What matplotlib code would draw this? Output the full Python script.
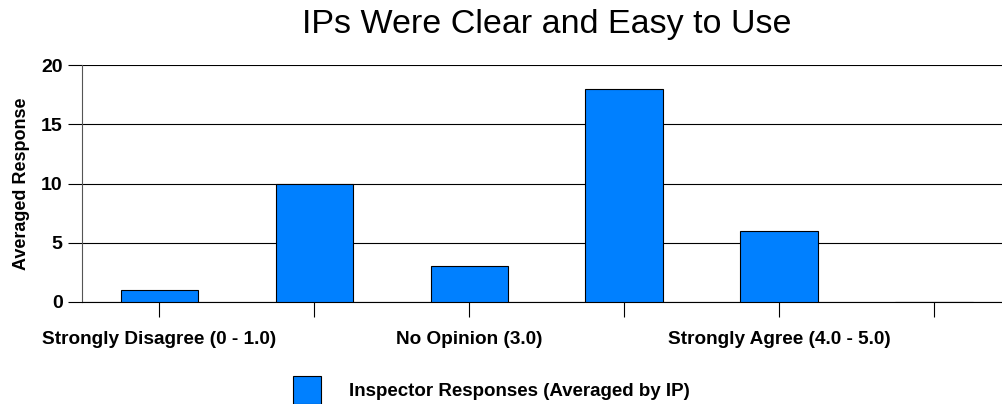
import matplotlib
matplotlib.use('Agg')
import matplotlib.pyplot as plt
from matplotlib.patches import Patch

plt.rcParams['font.family'] = ['Liberation Sans', 'DejaVu Sans']

categories = ['Strongly Disagree (0 - 1.0)', '', 'No Opinion (3.0)', '', 'Strongly Agree (4.0 - 5.0)', '']
values = [1, 10, 3, 18, 6, 0]
series_name = 'Inspector Responses (Averaged by IP)'
title = 'IPs Were Clear and Easy to Use'
ylabel = 'Averaged Response'

fig = plt.figure(figsize=(10.02, 4.04), dpi=100)
ax = fig.add_axes([82/1002, 1 - 302/404, (1002-82)/1002, 237/404])

x = list(range(len(values)))
ax.bar(x, values, width=0.5, color='#0080FF', edgecolor='black', linewidth=0.8, zorder=3)

ax.set_xlim(-0.5, (1002 - 159) / 155)
ax.set_ylim(0, 20)
ax.set_yticks([0, 5, 10, 15, 20])
ax.yaxis.grid(True, color='black', linewidth=0.8, zorder=0)
ax.set_xticks(x)
ax.set_xticklabels(categories, fontsize=13.7, fontweight='bold')
ax.tick_params(axis='x', length=11, width=0.8, pad=10)
ax.tick_params(axis='y', length=10, width=0.8, pad=4, labelsize=14)
for lbl in ax.get_yticklabels():
    lbl.set_fontweight('bold')

ax.spines['top'].set_visible(False)
ax.spines['right'].set_visible(False)
ax.spines['left'].set_color('#555555')
ax.spines['left'].set_linewidth(0.8)
ax.spines['bottom'].set_linewidth(0.8)

ax.set_ylabel(ylabel, fontsize=13, fontweight='bold', labelpad=8)
fig.text(0.546, 1 - 24/404, title, ha='center', va='center', fontsize=24.5)

handle = Patch(facecolor='#0080FF', edgecolor='black', linewidth=0.8)
fig.legend([handle], [series_name], loc='upper left', bbox_to_anchor=(293/1002, 1 - 378/404),
           frameon=False, prop={'size': 13.5, 'weight': 'bold'}, borderpad=0, borderaxespad=0,
           handlelength=1.5, handleheight=1.5, handletextpad=1.5)
leg = fig.legends[0]
for p in leg.get_patches():
    p.set_height(28 * 72 / 100)
    p.set_y(-(28 * 72 / 100 - 1.5 * 13.5 * 0.7) / 2 - 2.9)

fig.savefig('out.png', dpi=100)
